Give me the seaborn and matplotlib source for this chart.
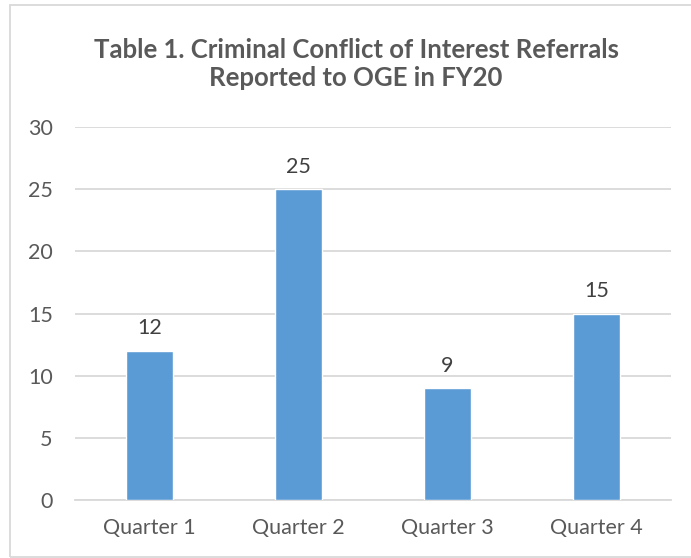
import matplotlib
matplotlib.use("Agg")
import matplotlib.pyplot as plt
import seaborn as sns
import pandas as pd
from matplotlib.patches import Rectangle

categories = ["Quarter 1", "Quarter 2", "Quarter 3", "Quarter 4"]
values = [12, 25, 9, 15]
yticks = [0, 5, 10, 15, 20, 25, 30]
title = "Table 1. Criminal Conflict of Interest Referrals\nReported to OGE in FY20"

sns.set_theme(style="white")
plt.rcParams['font.family'] = ['Lato', 'DejaVu Sans']

df = pd.DataFrame({"quarter": categories, "count": values})

fig = plt.figure(figsize=(6.91, 5.58), dpi=100)
ax = fig.add_axes([75/691, 58/558, 596/691, 373/558])

sns.barplot(data=df, x="quarter", y="count", color="#5B9BD5", width=0.315,
            saturation=1, ax=ax, zorder=3)

ax.set_ylim(0, 30)
ax.set_xlim(-0.5, 3.5)
ax.set_yticks(yticks)
ax.set_yticklabels([str(t) for t in yticks])
ax.yaxis.grid(True, color="#D9D9D9", linewidth=1.3, zorder=0)
ax.xaxis.grid(False)
for s in ["top", "right", "left"]:
    ax.spines[s].set_visible(False)
ax.spines["bottom"].set_color("#D9D9D9")
ax.spines["bottom"].set_linewidth(1.3)
ax.set_xlabel("")
ax.set_ylabel("")
ax.tick_params(axis="both", length=0, labelsize=15.5, colors="#595959")
ax.tick_params(axis="y", pad=16)
ax.tick_params(axis="x", pad=13)

for c in ax.containers:
    ax.bar_label(c, labels=[str(v) for v in values], padding=9,
                 fontsize=15.5, color="#404040")

fig.text(356/691, 1 - 64/558, title, ha="center", va="center",
         fontsize=18.5, fontweight="bold", color="#595959", linespacing=1.25)

fig.patches.append(Rectangle((10/691, 1/558), 690/691, 552/558,
                             transform=fig.transFigure, fill=False,
                             edgecolor="#D9D9D9", linewidth=1.3))

fig.savefig("out.png", dpi=100)
